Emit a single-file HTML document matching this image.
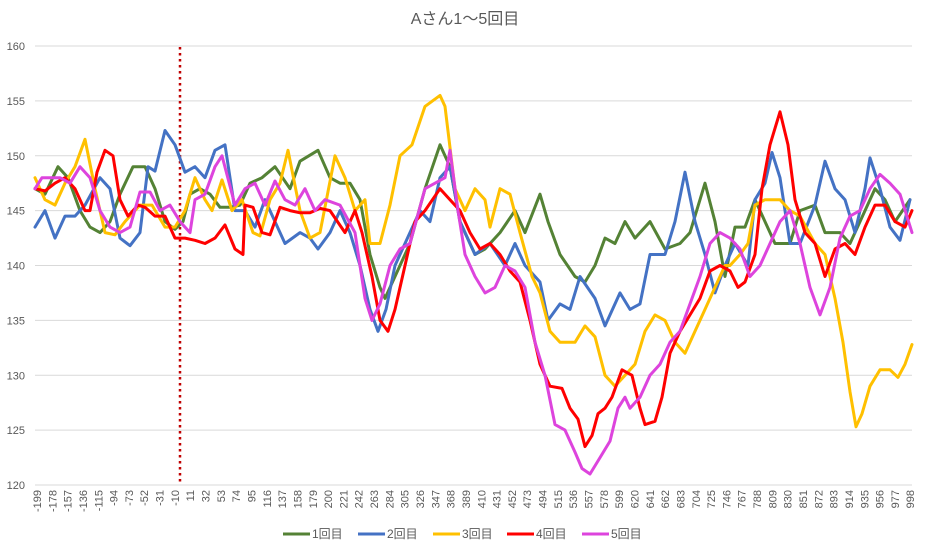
<!DOCTYPE html>
<html><head><meta charset="utf-8"><style>
body{margin:0;background:#fff;}
svg text{font-family:"Liberation Sans","Noto Sans CJK JP",sans-serif;fill:#595959;}
</style></head><body>
<svg id="s" width="927" height="551" xmlns="http://www.w3.org/2000/svg"></svg>
<script>
const s=document.getElementById('s');
const NS='http://www.w3.org/2000/svg';
function el(t,a,txt){const e=document.createElementNS(NS,t);for(const k in a)e.setAttribute(k,a[k]);if(txt!==undefined)e.textContent=txt;s.appendChild(e);return e;}
const Y=v=>46+(160-v)*10.975;
// title
el('text',{x:465,y:24,'text-anchor':'middle','font-size':16},'Aさん1～5回目');
// grid
for(let v=120;v<=160;v+=5){const y=Y(v);el('line',{x1:35,x2:912,y1:y,y2:y,stroke:'#d9d9d9','stroke-width':1});
el('text',{x:25,y:y+4,'text-anchor':'end','font-size':11},String(v));}
// x labels
for(let i=0;i<58;i++){const x=37+i*15.32;const lab=-199+21*i;
el('text',{x:0,y:0,'font-size':11,'text-anchor':'end',transform:`translate(${x+4},${490}) rotate(-90)`},String(lab));}
// dotted line
el('line',{x1:180,x2:180,y1:47,y2:485,stroke:'#c00000','stroke-width':2.5,'stroke-dasharray':'2.5,3.5'});
const data={
'#548235':[[35,147],[45,146.5],[58,149],[68,148],[80,145],[90,143.5],[100,143],[110,144],[120,146.5],[133,149],[145,149],[155,147],[165,144],[175,143.3],[183,144],[190,146.5],[200,147],[210,146.5],[220,145.3],[230,145.3],[240,145.5],[250,147.5],[262,148],[275,149],[290,147],[300,149.5],[318,150.5],[330,148],[340,147.5],[350,147.5],[360,146],[370,141],[380,138],[385,137],[395,139],[410,142],[425,147],[440,151],[450,149],[460,144],[475,141],[485,141.5],[500,143],[515,145],[525,143],[540,146.5],[548,144],[560,141],[575,139],[585,138.5],[595,140],[605,142.5],[615,142],[625,144],[635,142.5],[650,144],[665,141.5],[680,142],[690,143],[705,147.5],[715,144],[725,139],[735,143.5],[745,143.5],[755,146],[765,144],[775,142],[790,142],[800,145],[815,145.5],[825,143],[840,143],[850,142],[860,144],[875,147],[885,146],[895,144],[910,146]],
'#4472c4':[[35,143.5],[45,145],[55,142.5],[65,144.5],[75,144.5],[85,145.5],[100,148],[110,147],[120,142.5],[130,141.8],[140,143],[148,149],[155,148.6],[165,152.3],[175,151],[185,148.5],[195,149],[205,148],[215,150.5],[225,151],[235,145],[245,145],[255,143.5],[265,146],[275,144],[285,142],[300,143],[310,142.5],[318,141.5],[330,143],[340,145],[350,143],[360,140],[370,136],[378,134],[386,136],[395,140],[405,142],[420,145],[430,144],[440,148],[450,149],[460,144],[475,141],[490,142],[505,140],[515,142],[525,140],[540,138.5],[548,135],[560,136.5],[570,136],[580,139],[595,137],[605,134.5],[620,137.5],[630,136],[640,136.5],[650,141],[665,141],[675,144],[685,148.5],[695,144],[705,141],[715,137.5],[725,140],[735,142],[748,140],[755,146],[765,147.5],[772,150.3],[780,148],[790,142],[800,142],[815,145.5],[825,149.5],[835,147],[845,146],[855,143],[865,147],[870,149.8],[880,147],[890,143.5],[900,142.3],[910,146]],
'#ffc000':[[35,148],[45,146],[55,145.5],[65,147.5],[75,149],[85,151.5],[95,147],[105,143],[115,142.8],[125,144],[140,145.5],[152,145.5],[165,143.5],[175,143.5],[185,145],[195,148],[205,146],[212,145],[222,147.8],[232,145],[242,146],[253,143],[260,142.7],[270,146],[280,147.5],[288,150.5],[300,145],[310,142.5],[320,143],[335,150],[345,148],[355,145],[365,146],[370,142],[380,142],[390,145.5],[400,150],[412,151],[425,154.5],[440,155.5],[445,154.5],[455,147],[465,145],[475,147],[485,146],[490,143.5],[500,147],[510,146.5],[520,143],[532,139],[540,137.5],[550,134],[560,133],[575,133],[585,134.5],[595,133.5],[605,130],[615,129],[625,130],[635,131],[645,134],[655,135.5],[665,135],[675,133],[685,132],[695,134],[705,136],[715,138],[725,140],[730,140],[740,141],[748,142],[755,145.5],[765,146],[780,146],[790,145],[800,144.5],[815,142],[825,141],[835,137],[843,133],[850,128.5],[856,125.3],[862,126.5],[870,129],[880,130.5],[890,130.5],[898,129.8],[905,131],[912,132.8]],
'#ff0000':[[35,147],[45,146.8],[55,147.5],[65,148],[75,147],[85,145],[90,145],[97,148.5],[105,150.5],[113,150],[120,146],[128,144.5],[138,145.5],[145,145.3],[155,144.5],[165,144.5],[175,142.5],[185,142.5],[195,142.3],[205,142],[215,142.5],[225,143.7],[235,141.5],[243,141],[245,145.5],[253,145.3],[262,143],[270,142.8],[280,145.3],[290,145],[300,144.8],[310,144.8],[320,145.2],[330,145],[345,143],[355,145],[362,143],[372,139],[380,135],[388,134],[395,136],[405,140],[415,144],[425,145],[440,147],[450,146],[460,145],[470,143],[480,141.5],[490,142],[500,141],[510,139.5],[520,138.5],[530,135],[540,131],[550,129],[562,128.8],[570,127],[578,126],[585,123.5],[592,124.5],[598,126.5],[605,127],[612,128],[622,130.5],[632,130],[640,127],[645,125.5],[655,125.8],[662,128],[670,132],[680,134],[690,135.5],[700,137],[710,139.5],[720,140],[730,139.5],[738,138],[745,138.5],[755,141],[762,147],[770,151],[780,154],[788,151],[795,146],[805,143],[815,142],[825,139],[835,141.5],[845,142],[855,141],[865,143.5],[875,145.5],[885,145.5],[895,144],[905,143.5],[912,145]],
'#dd44dd':[[35,147],[42,148],[52,148],[60,148],[70,147.5],[80,149],[90,148],[100,145],[110,143.5],[120,143],[130,143.5],[140,146.7],[150,146.7],[160,145],[170,145.5],[180,144],[190,143],[195,146],[205,146.5],[215,149],[222,150],[235,145.5],[245,147],[255,147.5],[265,145.5],[275,147.7],[285,146],[295,145.5],[305,147],[315,145],[325,146],[340,145.5],[355,143],[365,137],[372,135],[380,136.5],[390,140],[400,141.5],[410,142],[425,147],[435,147.5],[445,148],[450,150.5],[458,145],[465,141],[475,139],[485,137.5],[495,138],[505,140],[515,139.5],[525,138],[535,133],[545,130],[555,125.5],[565,125],[575,123],[582,121.5],[590,121],[600,122.5],[610,124],[618,127],[625,128],[630,127],[640,128],[650,130],[660,131],[670,133],[680,134],[690,136.5],[700,139],[710,142],[720,143],[730,142.5],[740,141.5],[750,139],[760,140],[770,142],[780,144],[790,145],[800,142],[810,138],[820,135.5],[830,138],[840,142.5],[850,144.5],[860,145],[870,147],[880,148.3],[890,147.5],[900,146.5],[912,143]]
};
for(const c in data){
el('polyline',{points:data[c].map(p=>p[0]+','+Y(p[1]).toFixed(1)).join(' '),fill:'none',stroke:c,'stroke-width':3,'stroke-linejoin':'round','stroke-linecap':'round'});
}
// legend
const leg=[['#548235','1回目',283],['#4472c4','2回目',358],['#ffc000','3回目',433],['#ff0000','4回目',507],['#dd44dd','5回目',582]];
for(const [c,t,x] of leg){el('line',{x1:x,x2:x+27,y1:534,y2:534,stroke:c,'stroke-width':3});
el('text',{x:x+29,y:538,'font-size':12},t);}
</script>
</body></html>
